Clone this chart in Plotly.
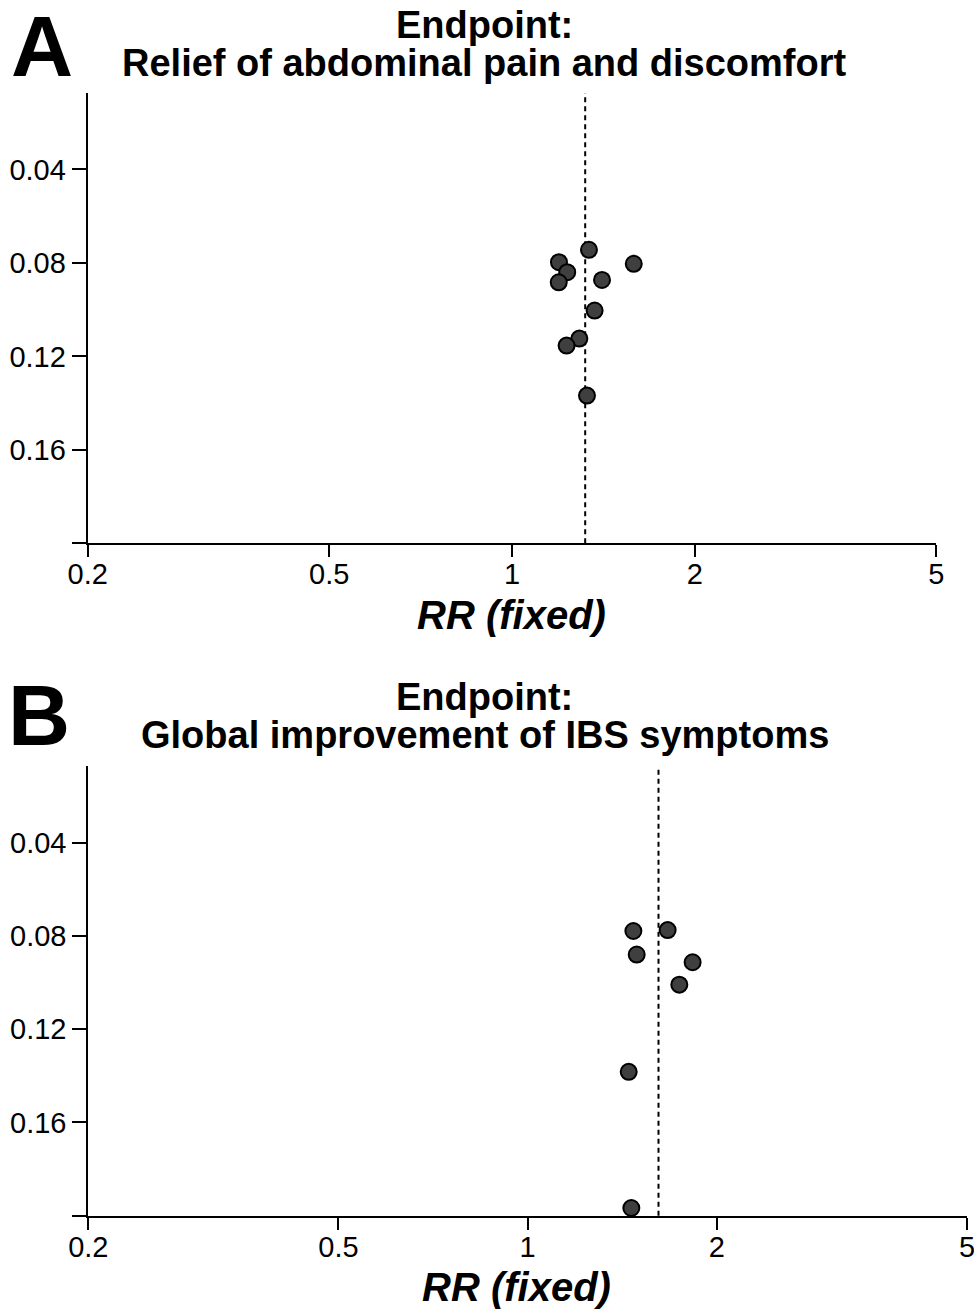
import plotly.graph_objects as go
import math

# ---- data ----
tick_vals_x = [0.2, 0.5, 1, 2, 5]
tick_text_x = ["0.2", "0.5", "1", "2", "5"]
tick_vals_y = [0.04, 0.08, 0.12, 0.16, 0.2]
tick_text_y = ["0.04", "0.08", "0.12", "0.16", ""]

rr_a = [1.339, 1.195, 1.233, 1.194, 1.587, 1.407, 1.368, 1.291, 1.230, 1.329]
se_a = [0.0744, 0.0797, 0.0840, 0.0883, 0.0804, 0.0873, 0.1004, 0.1124, 0.1154, 0.1368]
pooled_a = 1.32

rr_b = [1.473, 1.670, 1.491, 1.830, 1.743, 1.448, 1.462]
se_b = [0.0779, 0.0775, 0.0880, 0.0913, 0.1009, 0.1383, 0.1967]
pooled_b = 1.615

title_a = ["Endpoint:", "Relief of abdominal pain and discomfort"]
title_b = ["Endpoint:", "Global improvement of IBS symptoms"]
x_title = "<b><i>RR (fixed)</i></b>"

W, H = 974, 1311
FONT = "Liberation Sans, Arial, Helvetica, sans-serif"


def xp(p):
    return p / W


def yp(p):
    return 1 - p / H


fig = go.Figure()

marker = dict(size=16, color="#3f3f3f", line=dict(color="black", width=2))
fig.add_trace(go.Scatter(x=rr_a, y=se_a, mode="markers", marker=marker,
                         xaxis="x", yaxis="y", cliponaxis=False, showlegend=False))
fig.add_trace(go.Scatter(x=rr_b, y=se_b, mode="markers", marker=marker,
                         xaxis="x2", yaxis="y2", cliponaxis=False, showlegend=False))

for xref, yref, val in [("x", "y domain", pooled_a), ("x2", "y2 domain", pooled_b)]:
    fig.add_shape(type="line", xref=xref, yref=yref, x0=val, x1=val, y0=0, y1=1,
                  line=dict(color="black", width=2, dash="5px,4px"), layer="below")

common_x = dict(type="log", range=[math.log10(0.2), math.log10(5)],
                tickvals=tick_vals_x, ticktext=tick_text_x,
                showgrid=False, zeroline=False, showline=True, linecolor="black",
                linewidth=2, ticks="outside", ticklen=12, tickwidth=2, tickcolor="black",
                ticklabelstandoff=-8, ticklabeloverflow="allow",
                tickfont=dict(family=FONT, size=29, color="black"), automargin=False)
common_y = dict(range=[0.2, 0.0073], tickvals=tick_vals_y, ticktext=tick_text_y,
                showgrid=False, zeroline=False, showline=True, linecolor="black",
                linewidth=2, ticks="outside", ticklen=14, tickwidth=2, tickcolor="black",
                ticklabeloverflow="allow",
                tickfont=dict(family=FONT, size=29, color="black"), automargin=False)

fig.update_layout(
    width=W, height=H,
    margin=dict(l=0, r=0, t=0, b=0),
    paper_bgcolor="white", plot_bgcolor="white",
    xaxis=dict(common_x, domain=[xp(87.7), xp(936.3)], anchor="y"),
    yaxis=dict(common_y, domain=[yp(543.3), yp(93)], anchor="x"),
    xaxis2=dict(common_x, domain=[xp(88.3), xp(967)], anchor="y2"),
    yaxis2=dict(common_y, domain=[yp(1215.7), yp(766.4)], anchor="x2"),
    showlegend=False,
)

ann = []
# panel letters
ann.append(dict(text="<b>A</b>", x=xp(42), y=yp(46), font=dict(size=86)))
ann.append(dict(text="<b>B</b>", x=xp(39), y=yp(715), font=dict(size=86)))
# titles
ann.append(dict(text="<b>" + title_a[0] + "</b>", x=xp(484), y=yp(25), font=dict(size=38)))
ann.append(dict(text="<b>" + title_a[1] + "</b>", x=xp(484), y=yp(63), font=dict(size=38)))
ann.append(dict(text="<b>" + title_b[0] + "</b>", x=xp(484), y=yp(697), font=dict(size=38)))
ann.append(dict(text="<b>" + title_b[1] + "</b>", x=xp(485), y=yp(735), font=dict(size=38)))
# axis titles
ann.append(dict(text=x_title, x=xp(511), y=yp(615), font=dict(size=40)))
ann.append(dict(text=x_title, x=xp(516), y=yp(1287), font=dict(size=40)))

for a in ann:
    a.update(xref="paper", yref="paper", showarrow=False, xanchor="center", yanchor="middle")
    a["font"].update(family=FONT, color="black")
fig.update_layout(annotations=ann)

fig.write_html("out.html", config={"displayModeBar": False},
               post_script="document.body.style.margin='0';document.body.style.overflow='hidden';")
